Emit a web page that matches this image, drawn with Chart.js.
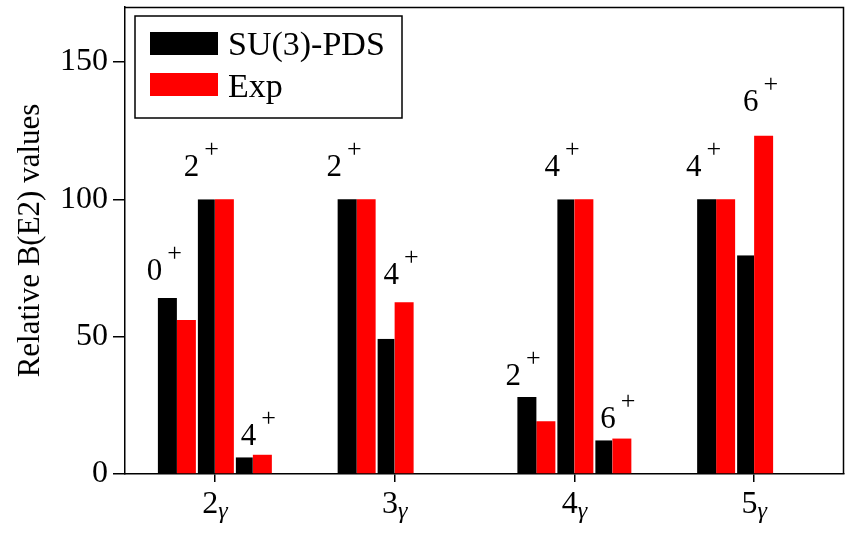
<!DOCTYPE html>
<html><head><meta charset="utf-8">
<script src="https://cdn.jsdelivr.net/npm/chart.js@4.4.1/dist/chart.umd.min.js"></script>
<style>html,body{margin:0;padding:0;background:#fff;}</style>
</head><body>
<canvas id="c" width="847" height="533"></canvas>
<script>
// ---- data ----
const categories = ['2γ', '3γ', '4γ', '5γ'];
const seriesNames = ['SU(3)-PDS', 'Exp'];
const yTicks = [0, 50, 100, 150];
// three transition slots per band
const su3Slot1 = [64.1, 100, 28.0, 100];
const expSlot1 = [56.1, 100, 19.2, 100];
const su3Slot2 = [100, 49.2, 100, 79.6];
const expSlot2 = [100, 62.5, 100, 123.1];
const su3Slot3 = [6.1, null, 12.3, null];
const expSlot3 = [7.0, null, 12.9, null];
// spin labels of final states
const spinSlot1 = ['0', '2', '2', '4'];
const spinSlot2 = ['2', '4', '4', '6'];
const spinSlot3 = ['4', null, '6', null];
// label anchors in data units (category offset, value)
const labelDxSlot1 = [-0.373, -0.373, -0.378, -0.373];
const labelYSlot1 = [70.8, 108.4, 32.5, 108.4];
const labelDxSlot2 = [-0.167, -0.056, -0.161, -0.056];
const labelYSlot2 = [108.4, 69.0, 108.4, 132.1];
const labelDxSlot3 = [0.150, null, 0.150, null];
const labelYSlot3 = [10.6, null, 16.8, null];

const BLACK = '#000000', RED = '#ff0000';
const SERIF = '"Liberation Serif", "Times New Roman", serif';

function ds(data, color, gapLeft, name) {
  return {
    label: name, data: data, backgroundColor: color,
    borderColor: '#ffffff',
    borderWidth: {left: gapLeft ? 2 : 0, top: 0, right: 0, bottom: 0},
    borderSkipped: false,
    inflateAmount: 0
  };
}

const decor = {
  id: 'decor',
  afterDraw(chart) {
    const {ctx, chartArea: a, scales: {x, y}} = chart;
    ctx.save();
    // top and right spines
    ctx.strokeStyle = '#000'; ctx.lineWidth = 1.5;
    ctx.beginPath();
    ctx.moveTo(a.left, a.top + 0.5); ctx.lineTo(a.right - 0.5, a.top + 0.5); ctx.lineTo(a.right - 0.5, a.bottom);
    ctx.stroke();

    // x tick labels with subscript gamma
    ctx.fillStyle = '#000';
    ctx.textBaseline = 'alphabetic';
    ctx.textAlign = 'left';
    categories.forEach((c, i) => {
      const px = x.getPixelForTick(i);
      const base = c.slice(0, -1), sub = c.slice(-1);
      ctx.font = '32px ' + SERIF;
      const w1 = ctx.measureText(base).width;
      ctx.font = 'italic 24px ' + SERIF;
      const w2 = ctx.measureText(sub).width;
      const start = px - (w1 + w2) / 2;
      ctx.font = '32px ' + SERIF;
      ctx.fillText(base, start, a.bottom + 39);
      ctx.font = 'italic 24px ' + SERIF;
      ctx.fillText(sub, start + w1, a.bottom + 44);
    });

    // spin labels
    const catW = x.getPixelForTick(1) - x.getPixelForTick(0);
    const slots = [
      [spinSlot1, labelDxSlot1, labelYSlot1],
      [spinSlot2, labelDxSlot2, labelYSlot2],
      [spinSlot3, labelDxSlot3, labelYSlot3]
    ];
    slots.forEach(([spins, dxs, ys]) => {
      spins.forEach((s, i) => {
        if (s === null) return;
        const px = x.getPixelForTick(i) + dxs[i] * catW;
        const py = y.getPixelForValue(ys[i]);
        ctx.font = '31px ' + SERIF;
        ctx.fillText(s, px - 1, py);
        ctx.font = '26px ' + SERIF;
        ctx.fillText('+', px + 19.5, py - 19);
      });
    });

    // legend
    const lx = a.left + 10, ly = a.top + 9;
    ctx.lineWidth = 1.5; ctx.strokeStyle = '#000';
    ctx.strokeRect(lx, ly, 267, 102);
    ctx.fillStyle = BLACK;
    ctx.fillRect(lx + 15, ly + 16, 68, 23);
    ctx.fillStyle = RED;
    ctx.fillRect(lx + 15, ly + 57, 68, 23);
    ctx.fillStyle = '#000';
    ctx.font = '34px ' + SERIF;
    ctx.fillText(seriesNames[0], lx + 93, ly + 39);
    ctx.fillText(seriesNames[1], lx + 93, ly + 81);
    ctx.restore();
  }
};

new Chart(document.getElementById('c'), {
  type: 'bar',
  data: {
    labels: categories,
    datasets: [
      ds(su3Slot1, BLACK, false, seriesNames[0]),
      ds(expSlot1, RED, false, seriesNames[1]),
      ds(su3Slot2, BLACK, true, seriesNames[0]),
      ds(expSlot2, RED, false, seriesNames[1]),
      ds(su3Slot3, BLACK, true, seriesNames[0]),
      ds(expSlot3, RED, false, seriesNames[1])
    ]
  },
  options: {
    responsive: false,
    animation: false,
    categoryPercentage: 0.634,
    barPercentage: 1.0,
    layout: {padding: {top: 7, right: 3, left: 0, bottom: 0}},
    plugins: {legend: {display: false}, tooltip: {enabled: false}},
    scales: {
      x: {
        offset: true,
        grid: {display: true, offset: false, drawOnChartArea: false, drawTicks: true, tickLength: 8, color: '#000', lineWidth: 1.5},
        border: {display: true, color: '#000', width: 1.5},
        ticks: {display: false},
        afterFit: (s) => { s.height = 59; s.paddingLeft = 0; s.paddingRight = 0; }
      },
      y: {
        min: 0, max: 170,
        afterBuildTicks: (s) => { s.ticks = yTicks.map(v => ({value: v})); },
        afterFit: (s) => { s.width = 125; s.paddingTop = 0; s.paddingBottom = 0; },
        grid: {display: true, drawOnChartArea: false, drawTicks: true, tickLength: 12, color: '#000', lineWidth: 1.5},
        border: {display: true, color: '#000', width: 1.5},
        ticks: {font: {family: SERIF, size: 32}, color: '#000', padding: 5},
        title: {display: true, text: 'Relative B(E2) values', font: {family: SERIF, size: 31}, color: '#000', padding: {top: 12, bottom: 0}}
      }
    }
  },
  plugins: [decor]
});
</script>
</body></html>
